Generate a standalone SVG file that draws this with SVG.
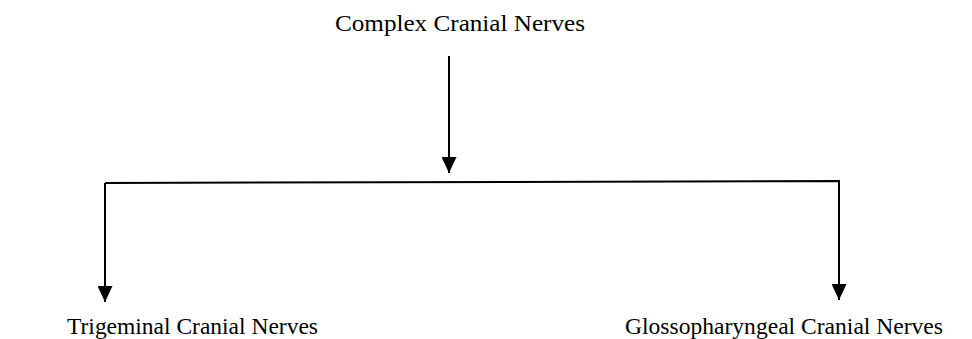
<svg xmlns="http://www.w3.org/2000/svg" width="972" height="339" viewBox="0 0 972 339">
<style>
text{font-family:"Liberation Serif","Times New Roman",serif;font-size:24px;fill:#000}
.c line,.c polyline{stroke:#000;stroke-width:2;fill:none}
</style>
<defs>
<marker id="ah" markerWidth="16" markerHeight="15" refX="16" refY="7.5" orient="auto" markerUnits="userSpaceOnUse">
<path d="M0,0 L16,7.5 L0,15 Z" fill="#000"/>
</marker>
</defs>
<rect width="972" height="339" fill="#fff"/>
<g id="node-complex"><text x="335" y="31" textLength="250" lengthAdjust="spacingAndGlyphs">Complex Cranial Nerves</text></g>
<g id="node-trigeminal"><text x="67" y="334" textLength="251" lengthAdjust="spacingAndGlyphs">Trigeminal Cranial Nerves</text></g>
<g id="node-glosso"><text x="625" y="334" textLength="318" lengthAdjust="spacingAndGlyphs">Glossopharyngeal Cranial Nerves</text></g>
<g class="c" id="connectors">
<line x1="449" y1="56" x2="449" y2="173" marker-end="url(#ah)"/>
<polyline points="105,183 839,181 839,300" marker-end="url(#ah)"/>
<line x1="105" y1="183" x2="105" y2="302" marker-end="url(#ah)"/>
</g>
</svg>
